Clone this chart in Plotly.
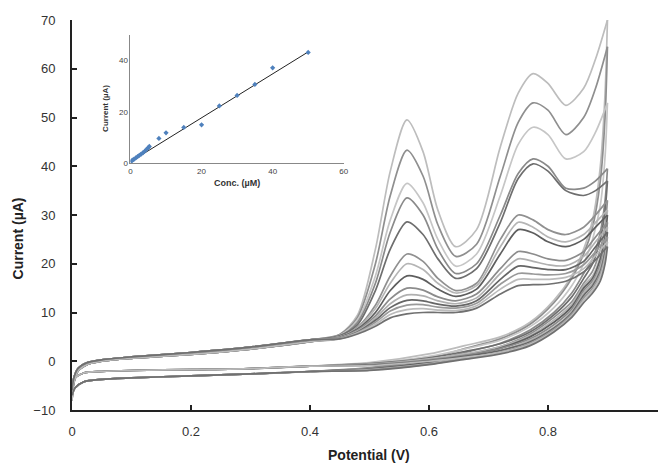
import plotly.graph_objects as go

# ---------------- main CV data ----------------
# shared early forward baseline
BX = [0, 0.003, 0.01, 0.025, 0.05, 0.1, 0.2, 0.3, 0.4]
BASE_A = [-8, -4.5, -2, -0.7, 0, 0.6, 1.4, 2.5, 4.0]
BASE_B = [-6, -3.5, -1.5, -0.3, 0.3, 0.9, 1.8, 2.9, 4.4]

# forward scan, peak region
FX = [0.45, 0.48, 0.51, 0.535, 0.563, 0.59, 0.615, 0.645, 0.68, 0.72, 0.75, 0.775, 0.80, 0.83, 0.86, 0.88, 0.9]
# reverse scan, high-potential region
RX = [0.9, 0.896, 0.888, 0.875, 0.86, 0.84, 0.81, 0.77, 0.72, 0.66, 0.6, 0.5]
# shared reverse low region
RX_LOW = [0.4, 0.3, 0.2, 0.1, 0.05, 0.02, 0.005, 0]
REV_LOW_A = [-1.0, -1.5, -1.7, -1.9, -2.1, -2.4, -3.5, -6]
REV_LOW_B = [-2.1, -2.6, -3.0, -3.4, -3.7, -4.2, -5.5, -7]

curve_names = ["A", "B", "C", "D", "E", "F", "G", "H", "I", "J", "K", "L", "M", "N"]
curve_group = ["a", "b", "a", "b", "a", "b", "a", "b", "a", "b", "a", "b", "a", "b"]
curve_color = ["#bdbdbd", "#8f8f8f", "#c6c6c6", "#8a8a8a", "#6e6e6e", "#909090", "#b5b5b5",
               "#5e5e5e", "#8c8c8c", "#b0b0b0", "#666666", "#999999", "#bbbbbb", "#707070"]

fwd = {
    "A": [5.5, 9.5, 23, 39, 49.5, 43, 31, 23.5, 27, 44, 55, 59, 57, 52.5, 56, 62, 70],
    "B": [5.5, 9, 20, 34, 43.3, 38, 28, 21.5, 24, 38, 49, 53, 51.5, 46.5, 50, 56, 64.5],
    "C": [5.3, 8.5, 17.5, 29, 36.5, 32.5, 25, 19.5, 22, 34, 44.5, 48, 46.5, 41.5, 43, 47, 53],
    "D": [5.2, 8, 16, 26.5, 33.5, 30, 23, 18, 20, 30, 38.5, 41.5, 40, 35.5, 35.5, 37, 39.5],
    "E": [5.2, 7.5, 14.5, 23, 28.6, 26, 21, 17, 19, 28.5, 37.5, 40.5, 39, 35, 34, 35, 37],
    "F": [5, 7, 11.5, 17.5, 22, 20.5, 17, 14.5, 16, 25, 30, 29, 27, 26, 27.5, 30, 33],
    "G": [5, 6.8, 10.8, 16, 20, 18.8, 16, 14, 15.5, 23.5, 28.5, 27.5, 25.5, 24.5, 26, 28.5, 31],
    "H": [4.9, 6.6, 10, 14.5, 17.5, 16.8, 14.8, 13.3, 14.8, 22, 27, 26.3, 24.5, 23.5, 25, 27.5, 30],
    "I": [4.8, 6.4, 9.3, 12.8, 15, 14.6, 13.2, 12.4, 13.8, 19, 22.5, 22, 21, 20.7, 22.5, 25.5, 28.5],
    "J": [4.8, 6.2, 8.8, 11.8, 13.6, 13.4, 12.4, 11.8, 13, 18, 21, 20.5, 19.8, 19.6, 21.5, 24.5, 27.5],
    "K": [4.7, 6.0, 8.4, 11, 12.5, 12.4, 11.7, 11.3, 12.4, 16.8, 19.5, 19.2, 18.8, 18.8, 20.5, 23.5, 26.5],
    "L": [4.7, 5.9, 8.0, 10.3, 11.5, 11.6, 11.1, 10.9, 11.9, 15.8, 18, 17.9, 17.7, 18, 19.8, 22.5, 25.5],
    "M": [4.6, 5.8, 7.6, 9.6, 10.6, 10.8, 10.5, 10.4, 11.4, 14.8, 16.8, 16.8, 16.8, 17.2, 19, 21.7, 24.5],
    "N": [4.6, 5.6, 7.2, 8.9, 9.7, 10, 10, 10, 10.9, 13.8, 15.5, 15.7, 15.8, 16.4, 18.3, 20.8, 23.5],
}
rev = {
    "A": [70, 55, 40, 29, 23, 17.5, 12.5, 8, 5, 3.2, 1.5, -0.3],
    "B": [64.5, 50, 37, 27.5, 22, 17, 12, 7.6, 4.6, 2.6, 0.6, -1.3],
    "C": [53, 42, 32, 25, 20, 15.5, 11, 7.1, 4.3, 2.5, 1.0, -0.4],
    "D": [39.5, 33, 26.5, 21, 18, 14, 10, 6.4, 3.7, 1.8, 0.2, -1.4],
    "E": [37, 31, 25, 20, 17, 13.2, 9.5, 6, 3.6, 2, 0.7, -0.5],
    "F": [33, 28, 23, 18.5, 16, 12.2, 9, 5.6, 3.0, 1.3, -0.1, -1.5],
    "G": [31, 26.5, 21.5, 17.5, 15.5, 11.7, 8.5, 5.3, 3.0, 1.5, 0.5, -0.6],
    "H": [30, 25.5, 21, 17, 15, 11.2, 8, 5, 2.7, 1.0, -0.3, -1.6],
    "I": [28.5, 24.5, 20, 16.5, 14.5, 10.7, 7.5, 4.6, 2.6, 1.2, 0.3, -0.7],
    "J": [27.5, 23.5, 19.3, 16, 14, 10.2, 7, 4.3, 2.2, 0.8, -0.5, -1.7],
    "K": [26.5, 22.5, 18.5, 15.5, 13.5, 9.9, 6.8, 4, 2.2, 1.0, 0.1, -0.8],
    "L": [25.5, 21.7, 18, 15, 13, 9.6, 6.5, 3.7, 1.9, 0.6, -0.6, -1.8],
    "M": [24.5, 21, 17.3, 14.5, 12.5, 9.3, 6.2, 3.5, 1.8, 0.8, 0.0, -0.9],
    "N": [23.5, 20, 16.5, 14, 12, 9, 6, 3.2, 1.5, 0.4, -0.7, -1.9],
}

# ---------------- inset calibration data ----------------
conc = [0.3, 0.6, 1, 1.5, 2, 2.5, 3, 3.5, 4, 4.5, 5, 5.3, 8, 10, 15, 20, 25, 30, 35, 40, 50]
cal_current = [0.8, 1.1, 1.5, 2.0, 2.5, 3.0, 3.5, 4.0, 4.6, 5.3, 6.0, 6.5, 9.6, 11.8, 13.9, 14.9, 22.3, 26.4, 30.7, 37.2, 43.2]
fit_x = [0, 50]
fit_y = [0.5, 43.4]

FONT = "Liberation Sans, Arial, sans-serif"

fig = go.Figure()

for name, grp, col in zip(curve_names, curve_group, curve_color):
    base = BASE_A if grp == "a" else BASE_B
    low = REV_LOW_A if grp == "a" else REV_LOW_B
    fig.add_trace(go.Scatter(x=BX + FX, y=base + fwd[name], mode="lines",
                             line=dict(color=col, width=1.7, shape="spline", smoothing=0.8),
                             hoverinfo="skip"))
    fig.add_trace(go.Scatter(x=RX + RX_LOW, y=rev[name] + low, mode="lines",
                             line=dict(color=col, width=1.7, shape="spline", smoothing=0.8),
                             hoverinfo="skip"))

# inset
fig.add_trace(go.Scatter(x=fit_x, y=fit_y, mode="lines", xaxis="x2", yaxis="y2",
                         line=dict(color="#222222", width=1), hoverinfo="skip"))
fig.add_trace(go.Scatter(x=conc, y=cal_current, mode="markers", xaxis="x2", yaxis="y2",
                         marker=dict(symbol="diamond", size=4, color="#4f81bd"),
                         hoverinfo="skip"))

# page body adds an 8px offset; figure is sized so that it fits the window
fig.update_layout(
    width=658, height=457,
    margin=dict(l=64, r=0, t=12, b=55),
    paper_bgcolor="white", plot_bgcolor="white",
    showlegend=False,
    font=dict(family=FONT, color="#333333"),
    xaxis=dict(range=[0, 0.99], dtick=0.2, tick0=0, showgrid=False, zeroline=False,
               showline=True, linecolor="#222222", linewidth=2, automargin=False,
               ticks="inside", ticklen=5, tickwidth=2, tickcolor="#222222",
               tickfont=dict(size=13, color="#333333"), ticklabelstandoff=8),
    yaxis=dict(range=[-10, 70], dtick=10, showgrid=False, zeroline=False,
               showline=True, linecolor="#222222", linewidth=2, automargin=False,
               ticks="inside", ticklen=5, tickwidth=2, tickcolor="#222222",
               tickfont=dict(size=13, color="#333333"), ticklabelstandoff=12),
    xaxis2=dict(domain=[0.0993, 0.4613], anchor="y2", range=[0, 60], dtick=20,
                showgrid=False, zeroline=False, showline=True, linecolor="#888888",
                linewidth=1, ticks="", tickfont=dict(size=8, color="#444444")),
    yaxis2=dict(domain=[0.6333, 0.9615], anchor="x2", range=[0, 50], dtick=20,
                showgrid=False, zeroline=False, showline=True, linecolor="#888888",
                linewidth=1, ticks="", tickfont=dict(size=8, color="#444444")),
    annotations=[
        dict(text="<b>Potential (V)</b>", xref="paper", yref="paper", x=0.505, y=-0.1154,
             xanchor="center", yanchor="middle", showarrow=False,
             font=dict(size=14, color="#222222", family=FONT)),
        dict(text="<b>Current (µA)</b>", xref="paper", yref="paper", x=-0.0909, y=0.441,
             xanchor="center", yanchor="middle", showarrow=False, textangle=-90,
             font=dict(size=14, color="#222222", family=FONT)),
        dict(text="<b>Conc. (µM)</b>", xref="paper", yref="paper", x=0.2795, y=0.582,
             xanchor="center", yanchor="middle", showarrow=False,
             font=dict(size=9, color="#333333", family=FONT)),
        dict(text="<b>Current (µA)</b>", xref="paper", yref="paper", x=0.0556, y=0.774,
             xanchor="center", yanchor="middle", showarrow=False, textangle=-90,
             font=dict(size=8, color="#333333", family=FONT)),
    ],
)

fig.write_html("out.html")
